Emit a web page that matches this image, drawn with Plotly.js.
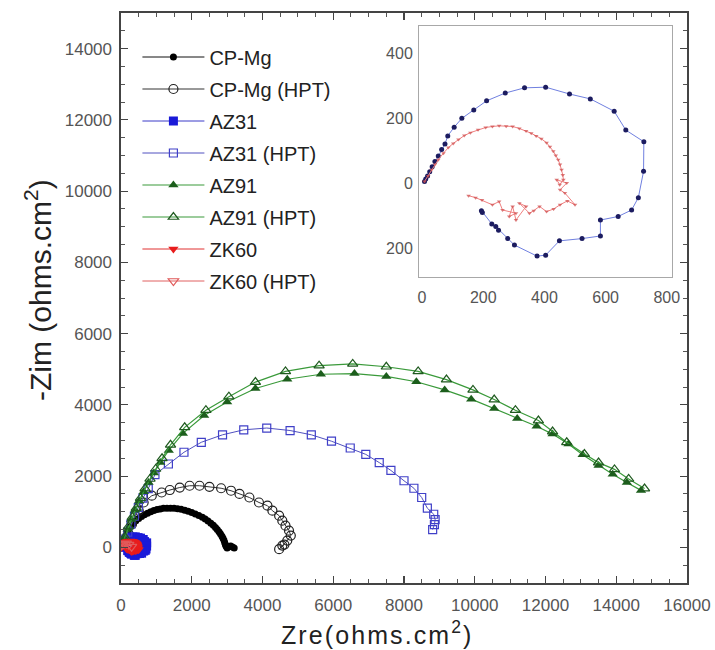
<!DOCTYPE html>
<html>
<head>
<meta charset="utf-8">
<script src="https://cdn.plot.ly/plotly-3.0.1.min.js"></script>
<style>
  html, body { margin: 0; padding: 0; background: #ffffff; }
  #chart { width: 715px; height: 650px; }
</style>
</head>
<body>
<div id="chart"></div>
<script>
// Nyquist data, Zre / -Zim in ohms.cm^2

// CP-Mg (as received)
const cpMgX = [60, 100, 140, 180, 230, 290, 350, 420, 500, 580, 660, 750, 840, 930, 1020, 1110, 1200, 1300, 1400, 1500, 1600, 1700, 1800, 1900, 2000, 2100, 2200, 2300, 2380, 2460, 2540, 2610, 2670, 2720, 2770, 2810, 2850, 2880, 2910, 2930, 2950, 2970, 3000, 3050, 3100, 3150, 3200];
const cpMgY = [120, 250, 350, 440, 530, 610, 680, 750, 810, 865, 915, 960, 1000, 1035, 1060, 1080, 1095, 1100, 1100, 1095, 1085, 1070, 1045, 1015, 980, 940, 895, 845, 795, 740, 680, 620, 560, 500, 440, 380, 320, 260, 200, 140, 80, 30, -20, 20, 40, 10, -20];

// CP-Mg (HPT)
const cpMgHptX = [60, 130, 220, 310, 400, 500, 640, 870, 1150, 1380, 1660, 1940, 2220, 2500, 2830, 3110, 3350, 3630, 3900, 4140, 4280, 4470, 4560, 4650, 4750, 4800, 4700, 4560, 4470, 4620];
const cpMgHptY = [60, 190, 370, 650, 890, 1030, 1260, 1450, 1540, 1610, 1680, 1730, 1730, 1700, 1660, 1590, 1500, 1400, 1260, 1170, 1030, 890, 750, 610, 470, 330, 190, 50, -50, 80];

// AZ31 (as received) - also shown enlarged in the inset
const az31X = [8, 12, 18, 25, 33, 42, 53, 64, 75, 84, 105, 130, 169, 211, 272, 335, 404, 482, 550, 628, 666, 725, 724, 707, 685, 641, 583, 583, 523, 449, 404, 376, 302, 280, 250, 241, 228, 197, 194];
const az31Y = [5, 12, 22, 35, 50, 66, 83, 103, 120, 145, 172, 199, 225, 253, 277, 293, 295, 274, 259, 221, 163, 127, 36, -45, -83, -103, -114, -163, -171, -178, -222, -225, -191, -171, -145, -134, -126, -91, -85];

// AZ31 (HPT)
const az31HptX = [40, 110, 190, 280, 380, 490, 620, 770, 960, 1340, 1780, 2270, 2870, 3470, 4120, 4780, 5380, 5950, 6480, 6920, 7300, 7630, 8000, 8280, 8500, 8660, 8840, 8880, 8860, 8810];
const az31HptY = [60, 230, 430, 650, 880, 1120, 1380, 1650, 2040, 2340, 2670, 2950, 3160, 3300, 3350, 3280, 3160, 2980, 2790, 2610, 2380, 2160, 1870, 1660, 1400, 1100, 930, 780, 640, 500];

// AZ91 (as received)
const az91X = [20, 100, 190, 290, 400, 510, 640, 780, 930, 1110, 1350, 1750, 2350, 3000, 3800, 4700, 5650, 6600, 7500, 8350, 9150, 9900, 10550, 11200, 11750, 12200, 12650, 13050, 13500, 13900, 14300, 14700];
const az91Y = [40, 250, 510, 780, 1040, 1300, 1560, 1820, 2090, 2380, 2720, 3200, 3700, 4080, 4460, 4720, 4860, 4880, 4800, 4650, 4420, 4160, 3900, 3620, 3400, 3180, 2900, 2600, 2300, 2050, 1820, 1600];

// AZ91 (HPT)
const az91HptX = [20, 110, 210, 320, 430, 550, 680, 820, 980, 1160, 1400, 1800, 2400, 3050, 3800, 4650, 5600, 6550, 7500, 8400, 9200, 9950, 10550, 11150, 11800, 12200, 12600, 13100, 13500, 13950, 14350, 14800];
const az91HptY = [50, 290, 580, 850, 1100, 1380, 1650, 1920, 2200, 2500, 2880, 3370, 3850, 4230, 4640, 4940, 5100, 5150, 5070, 4940, 4710, 4420, 4150, 3850, 3560, 3250, 2950, 2620, 2380, 2190, 1920, 1650];

// ZK60 (as received) - also shown enlarged in the inset
const zk60X = [8, 20, 31, 42, 53, 70, 86, 102, 119, 138, 158, 183, 208, 230, 252, 275, 296, 318, 340, 357, 373, 390, 407, 418, 429, 437, 445, 451, 456, 460, 462, 450, 440, 473, 451, 467, 500, 475, 451, 430, 407, 384, 365, 351, 318, 340, 307, 296, 285, 307, 263, 252, 230, 196, 175, 152];
const zk60Y = [5, 22, 41, 57, 72, 92, 109, 122, 134, 146, 155, 164, 171, 174, 176, 175, 174, 168, 160, 153, 145, 136, 124, 112, 98, 85, 72, 57, 41, 25, 10, -5, 10, 0, -21, -31, -67, -55, -67, -80, -88, -72, -85, -93, -62, -72, -114, -72, -103, -93, -83, -57, -67, -52, -45, -39];

// ZK60 (HPT)
const zk60HptX = [-80, 20, 80, 150, 220, 300];
const zk60HptY = [0, 60, 100, 110, 80, 20];

// Axis ticks
const mainXTicks = [0, 2000, 4000, 6000, 8000, 10000, 12000, 14000, 16000];
const mainXTickText = ['0', '2000', '4000', '6000', '8000', '10000', '12000', '14000', '16000'];
const mainYTicks = [0, 2000, 4000, 6000, 8000, 10000, 12000, 14000];
const mainYTickText = ['0', '2000', '4000', '6000', '8000', '10000', '12000', '14000'];
const insetXTicks = [0, 200, 400, 600, 800];
const insetXTickText = ['0', '200', '400', '600', '800'];
const insetYTicks = [-200, 0, 200, 400];
const insetYTickText = ['200', '0', '200', '400'];

const FONT = 'Liberation Sans, Arial, sans-serif';
const HS = '\u200A'; // hair space for the spaced-out axis title

function series(name, x, y, opts) {
  return Object.assign({
    type: 'scatter', mode: 'lines+markers', name: name, x: x, y: y,
    legendgroup: name, cliponaxis: true
  }, opts);
}

const traces = [
  series('CP-Mg', cpMgX, cpMgY, {
    line: { color: '#111111', width: 1 },
    marker: { symbol: 'circle', size: 7, color: '#000000' }
  }),
  series('CP-Mg (HPT)', cpMgHptX, cpMgHptY, {
    line: { color: '#333333', width: 1 },
    marker: { symbol: 'circle-open', size: 9, color: '#222222', line: { width: 1.2 } }
  }),
  series('AZ31', az31X, az31Y, {
    line: { color: '#3b3bc8', width: 1 },
    marker: { symbol: 'square', size: 9, color: '#1a1ad8' }
  }),
  series('AZ31 (HPT)', az31HptX, az31HptY, {
    line: { color: '#5050c0', width: 1 },
    marker: { symbol: 'square-open', size: 8, color: '#4040c8', line: { width: 1.2 } }
  }),
  series('AZ91', az91X, az91Y, {
    line: { color: '#3a9a3a', width: 1.2 },
    marker: { symbol: 'triangle-up', size: 9, color: '#1c5e1c' }
  }),
  series('AZ91 (HPT)', az91HptX, az91HptY, {
    line: { color: '#3a9a3a', width: 1.2 },
    marker: { symbol: 'triangle-up-open', size: 9, color: '#1f5a1f', line: { width: 1.2 } }
  }),
  series('ZK60', zk60X, zk60Y, {
    line: { color: '#e03030', width: 1 },
    marker: { symbol: 'triangle-down', size: 9, color: '#e81c1c' }
  }),
  series('ZK60 (HPT)', zk60HptX, zk60HptY, {
    line: { color: '#e06060', width: 1 },
    marker: { symbol: 'triangle-down-open', size: 9, color: '#e05a5a', line: { width: 1.2 } }
  }),
  // inset: enlarged view of AZ31 and ZK60
  {
    type: 'scatter', mode: 'lines+markers', x: az31X, y: az31Y,
    xaxis: 'x2', yaxis: 'y2', showlegend: false, hoverinfo: 'skip',
    line: { color: '#7080e0', width: 1 },
    marker: { symbol: 'circle', size: 5, color: '#1c1c60' }
  },
  {
    type: 'scatter', mode: 'lines+markers', x: zk60X, y: zk60Y,
    xaxis: 'x2', yaxis: 'y2', showlegend: false, hoverinfo: 'skip',
    line: { color: '#f08080', width: 1 },
    marker: { symbol: 'triangle-down', size: 4, color: '#d05050', opacity: 0.75 }
  }
];

const axisCommon = {
  showline: true, linecolor: '#444444', linewidth: 1.6, mirror: 'ticks',
  ticks: 'inside', ticklen: 7, tickwidth: 1.2, tickcolor: '#444444',
  showgrid: false, zeroline: false,
  tickfont: { family: FONT, size: 17, color: '#555555' },
  minor: { ticks: 'inside', ticklen: 4, tickwidth: 1, tickcolor: '#555555', dtick: 500, showgrid: false }
};

const insetAxis = {
  showline: true, linecolor: '#a8a8a8', linewidth: 1, mirror: true,
  ticks: '', showgrid: false, zeroline: false,
  tickfont: { family: FONT, size: 16, color: '#555555' }
};

const xTitle = ['Z', 'r', 'e', '(', 'o', 'h', 'm', 's', '.', 'c', 'm'].join(HS) + HS + '<sup>2</sup>' + HS + ')';

const layout = {
  width: 715, height: 650,
  margin: { l: 121, r: 28, t: 13, b: 67 },
  paper_bgcolor: '#ffffff', plot_bgcolor: '#ffffff',
  font: { family: FONT, color: '#222222' },
  showlegend: true,
  legend: {
    x: 0.029, y: 0.957, xanchor: 'left', yanchor: 'top',
    bgcolor: 'rgba(0,0,0,0)', borderwidth: 0,
    font: { family: FONT, size: 20, color: '#222222' },
    itemwidth: 62, tracegroupgap: 3, traceorder: 'grouped'
  },
  xaxis: Object.assign({}, axisCommon, {
    range: [0, 16000], tickvals: mainXTicks, ticktext: mainXTickText, ticklabelstandoff: 6
  }),
  yaxis: Object.assign({}, axisCommon, {
    range: [-1000, 15000], tickvals: mainYTicks, ticktext: mainYTickText, ticklabelstandoff: 4
  }),
  xaxis2: Object.assign({}, insetAxis, {
    domain: [0.5265, 0.9735], anchor: 'y2', range: [-10, 817],
    tickvals: insetXTicks, ticktext: insetXTickText, ticklabelstandoff: 6
  }),
  yaxis2: Object.assign({}, insetAxis, {
    domain: [0.537, 0.977], anchor: 'x2', range: [-289, 483],
    tickvals: insetYTicks, ticktext: insetYTickText, ticklabelstandoff: 2
  }),
  annotations: [
    {
      text: xTitle, xref: 'paper', yref: 'paper',
      x: (376 - 121) / 566, y: -(633 - 583) / 570, xanchor: 'center', yanchor: 'middle',
      showarrow: false, font: { family: FONT, size: 25, color: '#222222' }
    },
    {
      text: '-Zim (ohms.cm<sup>2</sup>)', xref: 'paper', yref: 'paper',
      x: -(121 - 38) / 566, y: (583 - 290) / 570, xanchor: 'center', yanchor: 'middle',
      textangle: -90, showarrow: false, font: { family: FONT, size: 30, color: '#222222' }
    }
  ]
};

Plotly.newPlot('chart', traces, layout, { displayModeBar: false, staticPlot: true });
</script>
</body>
</html>
